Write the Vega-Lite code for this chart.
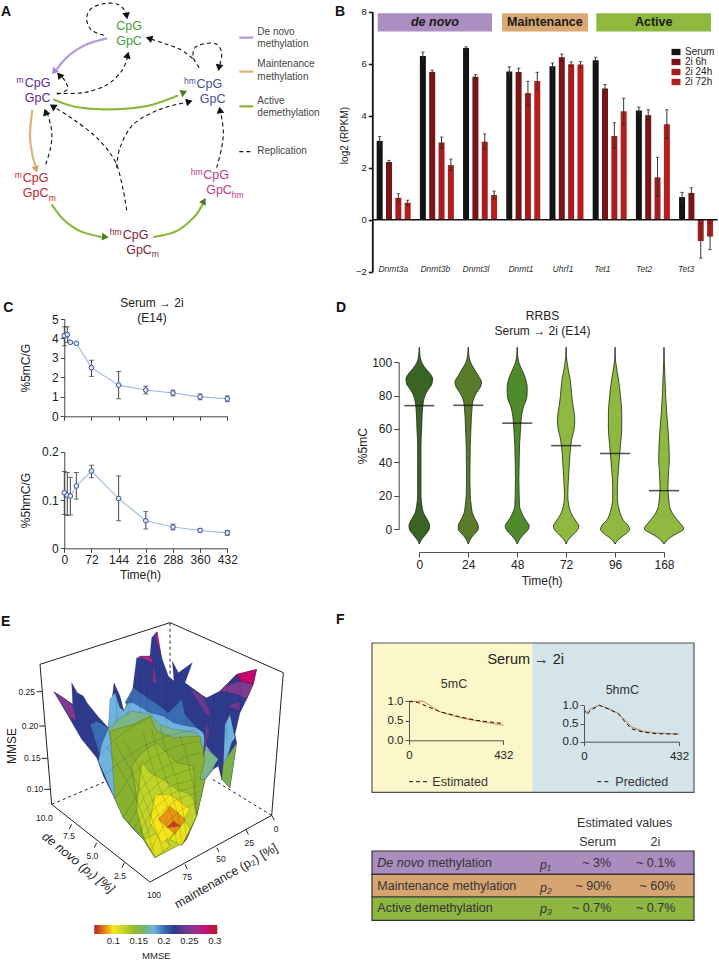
{"$schema":"https://vega.github.io/schema/vega-lite/v6.json","padding":0,"background":"white","spacing":0,"config":{"font":"Liberation Sans","view":{"stroke":null},"axis":{"grid":false,"labelColor":"#222","titleColor":"#222","titleFontWeight":"normal","labelOverlap":false,"labelBound":false,"labelFlush":false},"text":{"color":"#222"},"title":{"color":"#222"}},"hconcat":[{"vconcat":[
{"width":330,"height":317.7,"encoding":{"x":{"field":"x","type":"quantitative","axis":null,"scale":{"domain":[0,990],"nice":false,"zero":false}},"y":{"field":"y","type":"quantitative","axis":null,"scale":{"domain":[953.1,0],"nice":false,"zero":false}}},"resolve":{"scale":{"color":"independent"}},"layer":[
{"data":{"values":[
{"e":"r1","k":"Replication","x":312,"y":103},{"e":"r1","k":"Replication","x":275,"y":88},{"e":"r1","k":"Replication","x":260,"y":55},{"e":"r1","k":"Replication","x":272,"y":24},{"e":"r1","k":"Replication","x":310,"y":8},{"e":"r1","k":"Replication","x":350,"y":9},{"e":"r1","k":"Replication","x":372,"y":25},{"e":"r1","k":"Replication","x":380,"y":42},
{"e":"r2","k":"Replication","x":578,"y":172},{"e":"r2","k":"Replication","x":540,"y":145},{"e":"r2","k":"Replication","x":495,"y":128},{"e":"r2","k":"Replication","x":455,"y":115},
{"e":"r3","k":"Replication","x":598,"y":200},{"e":"r3","k":"Replication","x":580,"y":170},{"e":"r3","k":"Replication","x":585,"y":140},{"e":"r3","k":"Replication","x":620,"y":127},{"e":"r3","k":"Replication","x":650,"y":130},{"e":"r3","k":"Replication","x":665,"y":155},{"e":"r3","k":"Replication","x":660,"y":190},
{"e":"r4","k":"Replication","x":170,"y":277},{"e":"r4","k":"Replication","x":250,"y":275},{"e":"r4","k":"Replication","x":320,"y":252},{"e":"r4","k":"Replication","x":365,"y":210},{"e":"r4","k":"Replication","x":382,"y":170},
{"e":"r5","k":"Replication","x":172,"y":280},{"e":"r5","k":"Replication","x":203,"y":265},{"e":"r5","k":"Replication","x":195,"y":240},{"e":"r5","k":"Replication","x":183,"y":225},
{"e":"r6","k":"Replication","x":137,"y":490},{"e":"r6","k":"Replication","x":152,"y":440},{"e":"r6","k":"Replication","x":155,"y":390},{"e":"r6","k":"Replication","x":143,"y":340},
{"e":"r7","k":"Replication","x":380,"y":628},{"e":"r7","k":"Replication","x":368,"y":560},{"e":"r7","k":"Replication","x":345,"y":480},{"e":"r7","k":"Replication","x":290,"y":410},{"e":"r7","k":"Replication","x":220,"y":355},{"e":"r7","k":"Replication","x":165,"y":320},
{"e":"r8","k":"Replication","x":350,"y":500},{"e":"r8","k":"Replication","x":360,"y":440},{"e":"r8","k":"Replication","x":400,"y":370},{"e":"r8","k":"Replication","x":480,"y":325},{"e":"r8","k":"Replication","x":555,"y":305},
{"e":"r9","k":"Replication","x":650,"y":500},{"e":"r9","k":"Replication","x":665,"y":440},{"e":"r9","k":"Replication","x":670,"y":390},{"e":"r9","k":"Replication","x":663,"y":340},
{"e":"p","k":"De novo","x":322,"y":112},{"e":"p","k":"De novo","x":260,"y":130},{"e":"p","k":"De novo","x":205,"y":165},{"e":"p","k":"De novo","x":170,"y":205},
{"e":"o","k":"Maintenance","x":97,"y":327},{"e":"o","k":"Maintenance","x":90,"y":400},{"e":"o","k":"Maintenance","x":97,"y":460},{"e":"o","k":"Maintenance","x":107,"y":495},
{"e":"g1","k":"Active","x":160,"y":295},{"e":"g1","k":"Active","x":230,"y":318},{"e":"g1","k":"Active","x":330,"y":325},{"e":"g1","k":"Active","x":440,"y":315},{"e":"g1","k":"Active","x":535,"y":283},
{"e":"g2","k":"Active","x":155,"y":610},{"e":"g2","k":"Active","x":190,"y":655},{"e":"g2","k":"Active","x":240,"y":690},{"e":"g2","k":"Active","x":305,"y":708},
{"e":"g3","k":"Active","x":460,"y":708},{"e":"g3","k":"Active","x":530,"y":690},{"e":"g3","k":"Active","x":585,"y":645},{"e":"g3","k":"Active","x":608,"y":608},
{"e":"l1","k":"De novo","x":718,"y":110},{"e":"l1","k":"De novo","x":760,"y":110},
{"e":"l2","k":"Maintenance","x":718,"y":212},{"e":"l2","k":"Maintenance","x":760,"y":212},
{"e":"l3","k":"Active","x":718,"y":316},{"e":"l3","k":"Active","x":760,"y":316},
{"e":"l4","k":"Replication","x":718,"y":452},{"e":"l4","k":"Replication","x":760,"y":452}
]},"mark":{"type":"line","interpolate":"cardinal","order":false},"encoding":{"detail":{"field":"e"},"color":{"field":"k","type":"nominal","legend":null,"scale":{"domain":["De novo","Maintenance","Active","Replication"],"range":["#b39ad0","#e0ae78","#8cb73f","#111111"]}},"strokeDash":{"field":"k","type":"nominal","legend":null,"scale":{"domain":["De novo","Maintenance","Active","Replication"],"range":[[1,0],[1,0],[1,0],[4,3]]}},"strokeWidth":{"field":"k","type":"nominal","legend":null,"scale":{"type":"ordinal","domain":["De novo","Maintenance","Active","Replication"],"range":[2.2,2.2,2.2,1.1]}}}},
{"data":{"values":[
{"k":"Replication","x":380,"y":45,"a":170},{"k":"Replication","x":447,"y":112,"a":288},{"k":"Replication","x":657,"y":200,"a":190},{"k":"Replication","x":383,"y":162,"a":15},{"k":"Replication","x":178,"y":222,"a":321},{"k":"Replication","x":137,"y":333,"a":340},{"k":"Replication","x":158,"y":316,"a":302},{"k":"Replication","x":568,"y":302,"a":75},{"k":"Replication","x":660,"y":327,"a":352},
{"k":"De novo","x":162,"y":212,"a":221},{"k":"Maintenance","x":108,"y":505,"a":164},{"k":"Active","x":552,"y":274,"a":68},{"k":"Active","x":316,"y":708,"a":95},{"k":"Active","x":612,"y":600,"a":30}
]},"mark":{"type":"point","shape":"triangle-up","filled":true,"size":60,"opacity":1},"encoding":{"angle":{"field":"a","type":"quantitative","scale":null},"color":{"field":"k","type":"nominal","legend":null,"scale":{"domain":["De novo","Maintenance","Active","Replication"],"range":["#a98bc9","#d9a06a","#4f7a26","#111111"]}}}},
{"data":{"values":[
{"n":"CpG","t":"CpG","x":387,"y":74},{"n":"CpG","t":"GpC","x":387,"y":120},
{"n":"mCpG","t":"CpG","x":113,"y":245},{"n":"mCpG","t":"GpC","x":113,"y":291},
{"n":"hmCpG","t":"CpG","x":628,"y":248},{"n":"hmCpG","t":"GpC","x":638,"y":294},
{"n":"mCpGm","t":"CpG","x":107,"y":530},{"n":"mCpGm","t":"GpC","x":107,"y":575},
{"n":"hmCpGhm","t":"CpG","x":648,"y":521},{"n":"hmCpGhm","t":"GpC","x":657,"y":568},
{"n":"hmCpGm","t":"CpG","x":407,"y":701},{"n":"hmCpGm","t":"GpC","x":417,"y":747}
]},"mark":{"type":"text","fontSize":12.5,"baseline":"middle"},"encoding":{"text":{"field":"t"},"color":{"field":"n","type":"nominal","legend":null,"scale":{"domain":["CpG","mCpG","hmCpG","mCpGm","hmCpGhm","hmCpGm"],"range":["#3fa037","#5b2a8c","#3f4f96","#c8232c","#c03a8c","#7c2630"]}}}},
{"data":{"values":[
{"n":"mCpG","t":"m","x":60,"y":238},{"n":"hmCpG","t":"hm","x":570,"y":240},{"n":"mCpGm","t":"m","x":55,"y":523},{"n":"mCpGm","t":"m","x":157,"y":590},{"n":"hmCpGhm","t":"hm","x":590,"y":514},{"n":"hmCpGhm","t":"hm","x":713,"y":582},{"n":"hmCpGm","t":"hm","x":347,"y":693},{"n":"hmCpGm","t":"m","x":466,"y":760}
]},"mark":{"type":"text","fontSize":8.5,"baseline":"middle"},"encoding":{"text":{"field":"t"},"color":{"field":"n","type":"nominal","legend":null,"scale":{"domain":["mCpG","hmCpG","mCpGm","hmCpGhm","hmCpGm"],"range":["#5b2a8c","#3f4f96","#c8232c","#c03a8c","#7c2630"]}}}},
{"data":{"values":[
{"t":"De novo","x":772,"y":92},{"t":"methylation","x":772,"y":129},{"t":"Maintenance","x":772,"y":190},{"t":"methylation","x":772,"y":227},{"t":"Active","x":772,"y":300},{"t":"demethylation","x":772,"y":337},{"t":"Replication","x":772,"y":450}
]},"mark":{"type":"text","fontSize":10,"align":"left","baseline":"middle","color":"#444"},"encoding":{"text":{"field":"t"}}},
{"data":{"values":[{"t":"A","x":3,"y":33}]},"mark":{"type":"text","fontSize":14,"fontWeight":"bold","align":"left","baseline":"middle","color":"#111"},"encoding":{"text":{"field":"t"}}}
]},
{"width":330,"height":97.3,"title":{"text":["Serum → 2i","(E14)"],"fontSize":12,"fontWeight":"normal","anchor":"middle","dx":-13,"offset":-24,"lineHeight":15},"data":{"values":[
{"t":0,"v":4.15,"lo":3.63,"hi":4.6},{"t":8,"v":4.2,"lo":3.8,"hi":4.6},{"t":16,"v":3.8},{"t":32,"v":3.75},{"t":72,"v":2.5,"lo":2.05,"hi":2.88},{"t":144,"v":1.6,"lo":0.9,"hi":2.3},{"t":216,"v":1.35,"lo":1.15,"hi":1.55},{"t":288,"v":1.2,"lo":1.05,"hi":1.35},{"t":360,"v":1.0,"lo":0.85,"hi":1.15},{"t":432,"v":0.9,"lo":0.75,"hi":1.05}
]},"encoding":{"x":{"field":"t","type":"quantitative","title":null,"scale":{"domain":[0,432],"range":[64.3,227.3],"nice":false},"axis":{"values":[0,72,144,216,288,360,432],"labels":false,"tickSize":4,"domainColor":"#444","tickColor":"#444"}}},"layer":[
{"transform":[{"filter":"isValid(datum.lo)"}],"mark":{"type":"rule","color":"#444","strokeWidth":1},"encoding":{"y":{"field":"lo","type":"quantitative","title":"%5mC/G","axis":{"values":[0,1,2,3,4,5]}},"y2":{"field":"hi"}}},
{"transform":[{"filter":"isValid(datum.lo)"}],"mark":{"type":"tick","orient":"horizontal","size":5,"thickness":1,"color":"#333"},"encoding":{"y":{"field":"lo","type":"quantitative","title":"%5mC/G","axis":{"values":[0,1,2,3,4,5]}}}},
{"transform":[{"filter":"isValid(datum.lo)"}],"mark":{"type":"tick","orient":"horizontal","size":5,"thickness":1,"color":"#333"},"encoding":{"y":{"field":"hi","type":"quantitative","title":"%5mC/G","axis":{"values":[0,1,2,3,4,5]}}}},
{"mark":{"type":"line","color":"#9db7e3","strokeWidth":1.1},"encoding":{"y":{"field":"v","type":"quantitative","scale":{"domain":[0,5],"nice":false},"title":"%5mC/G","axis":{"values":[0,1,2,3,4,5],"offset":-64.3,"labelFontSize":12,"titleFontSize":12,"tickSize":4,"titleX":-32.3,"domainColor":"#444","tickColor":"#444"}}}},
{"mark":{"type":"point","filled":true,"fill":"#dfe7f4","stroke":"#3b4f9a","strokeWidth":1,"size":22,"opacity":1},"encoding":{"y":{"field":"v","type":"quantitative","title":"%5mC/G","axis":{"values":[0,1,2,3,4,5]}}}},
{"data":{"values":[{"t":-162,"v":5.55,"l":"C"}]},"mark":{"type":"text","fontSize":14,"fontWeight":"bold","align":"left","baseline":"middle","color":"#111"},"encoding":{"y":{"field":"v","type":"quantitative","title":"%5mC/G","axis":{"values":[0,1,2,3,4,5]}},"text":{"field":"l"}}}
]},
{"width":330,"height":131.3,"data":{"values":[
{"t":0,"v":0.115,"lo":0.07,"hi":0.159},{"t":8,"v":0.11,"lo":0.068,"hi":0.157},{"t":16,"v":0.108,"lo":0.069,"hi":0.147},{"t":32,"v":0.129,"lo":0.102,"hi":0.157},{"t":72,"v":0.16,"lo":0.146,"hi":0.172},{"t":144,"v":0.103,"lo":0.057,"hi":0.15},{"t":216,"v":0.057,"lo":0.04,"hi":0.076},{"t":288,"v":0.044,"lo":0.038,"hi":0.05},{"t":360,"v":0.037,"lo":0.034,"hi":0.04},{"t":432,"v":0.032,"lo":0.027,"hi":0.037}
]},"encoding":{"x":{"field":"t","type":"quantitative","title":"Time(h)","scale":{"domain":[0,432],"range":[64.3,227.3],"nice":false},"axis":{"values":[0,72,144,216,288,360,432],"labelFontSize":12,"titleFontSize":12,"tickSize":4,"titlePadding":4,"domainColor":"#444","tickColor":"#444","titleX":140}}},"layer":[
{"mark":{"type":"rule","color":"#444","strokeWidth":1},"encoding":{"y":{"field":"lo","type":"quantitative","title":"%5hmC/G","axis":{"values":[0,0.1,0.2]}},"y2":{"field":"hi"}}},
{"mark":{"type":"tick","orient":"horizontal","size":5,"thickness":1,"color":"#333"},"encoding":{"y":{"field":"lo","type":"quantitative","title":"%5hmC/G","axis":{"values":[0,0.1,0.2]}}}},
{"mark":{"type":"tick","orient":"horizontal","size":5,"thickness":1,"color":"#333"},"encoding":{"y":{"field":"hi","type":"quantitative","title":"%5hmC/G","axis":{"values":[0,0.1,0.2]}}}},
{"mark":{"type":"line","color":"#9db7e3","strokeWidth":1.1},"encoding":{"y":{"field":"v","type":"quantitative","scale":{"domain":[0,0.2],"range":[131.3,34.7],"nice":false},"title":"%5hmC/G","axis":{"values":[0,0.1,0.2],"labelExpr":"datum.value === 0 ? '0' : format(datum.value, '.1f')","offset":-64.3,"labelFontSize":12,"titleFontSize":12,"tickSize":4,"titleX":-32.3,"domainColor":"#444","tickColor":"#444"}}}},
{"mark":{"type":"point","filled":true,"fill":"#dfe7f4","stroke":"#3b4f9a","strokeWidth":1,"size":22,"opacity":1},"encoding":{"y":{"field":"v","type":"quantitative","title":"%5hmC/G","axis":{"values":[0,0.1,0.2]}}}}
]},
{"width":330,"height":413.7,"resolve":{"scale":{"color":"independent"}},"layer":[
{"data":{"values":[
{"type":"Feature","properties":{"v":0.22},"geometry":{"type":"Polygon","coordinates":[[[162,237],[190,255],[218,275],[215,210],[232,240],[250,250],[262,272],[295,312],[325,345],[335,270],[342,210],[360,250],[372,295],[385,265],[398,230],[410,135],[450,130],[455,75],[470,57],[485,135],[505,190],[522,205],[517,145],[535,180],[577,150],[555,210],[610,250],[620,255],[660,235],[710,185],[770,170],[760,215],[740,260],[720,300],[705,365],[710,390],[690,525],[665,500],[655,460],[640,470],[615,500],[590,610],[560,680],[545,698],[525,690],[510,700],[465,735],[430,680],[400,650],[370,615],[345,560],[310,490],[290,435],[245,380],[200,300]]]}},
{"type":"Feature","properties":{"v":0.2},"geometry":{"type":"Polygon","coordinates":[[[270,335],[290,325],[325,345],[335,405],[335,440],[300,430],[290,400]]]}},
{"type":"Feature","properties":{"v":0.2},"geometry":{"type":"Polygon","coordinates":[[[375,270],[400,225],[450,260],[480,280],[505,300],[545,260],[555,305],[590,345],[610,375],[520,365],[450,315]]]}},
{"type":"Feature","properties":{"v":0.18},"geometry":{"type":"Polygon","coordinates":[[[295,445],[305,395],[325,345],[330,260],[345,240],[360,285],[372,295],[385,270],[400,270],[450,300],[490,310],[520,330],[560,340],[590,345],[610,360],[620,400],[650,440],[640,470],[615,500],[590,610],[345,560],[310,490]]]}},
{"type":"Feature","properties":{"v":0.18},"geometry":{"type":"Polygon","coordinates":[[[675,335],[690,305],[705,375],[695,390],[680,440],[670,450],[655,440]]]}},
{"type":"Feature","properties":{"v":0.155},"geometry":{"type":"Polygon","coordinates":[[[670,450],[710,390],[690,525],[665,500],[655,460]]]}},
{"type":"Feature","properties":{"v":0.168},"geometry":{"type":"Polygon","coordinates":[[[325,350],[360,315],[395,295],[450,305],[480,335],[520,350],[560,355],[590,360],[605,400],[640,425],[655,440],[615,500],[590,610],[400,640],[325,500]]]}},
{"type":"Feature","properties":{"v":0.148},"geometry":{"type":"Polygon","coordinates":[[[330,355],[400,335],[450,310],[470,355],[520,375],[600,370],[615,440],[600,500],[615,500],[590,610],[560,680],[465,735],[430,680],[370,615],[345,560],[330,480]]]}},
{"type":"Feature","properties":{"v":0.138},"geometry":{"type":"Polygon","coordinates":[[[395,460],[425,420],[470,390],[530,450],[580,460],[590,610],[550,690],[465,735],[430,680],[400,600]]]}},
{"type":"Feature","properties":{"v":0.122},"geometry":{"type":"Polygon","coordinates":[[[425,445],[450,480],[480,495],[530,530],[570,545],[580,560],[590,610],[550,690],[465,735],[430,670],[410,590],[395,460]]]}},
{"type":"Feature","properties":{"v":0.11},"geometry":{"type":"Polygon","coordinates":[[[435,680],[465,735],[510,700],[475,660],[440,640]]]}},
{"type":"Feature","properties":{"v":0.1},"geometry":{"type":"Polygon","coordinates":[[[465,545],[510,545],[570,590],[550,620],[520,660],[510,675],[485,690],[450,630],[445,570]]]}},
{"type":"Feature","properties":{"v":0.105},"geometry":{"type":"Polygon","coordinates":[[[510,680],[555,625],[570,650],[545,698],[525,690]]]}},
{"type":"Feature","properties":{"v":0.085},"geometry":{"type":"Polygon","coordinates":[[[475,620],[510,580],[555,620],[525,665],[495,650]]]}},
{"type":"Feature","properties":{"v":0.07},"geometry":{"type":"Polygon","coordinates":[[[500,645],[520,625],[540,640],[525,663]]]}},
{"type":"Feature","properties":{"v":0.25},"geometry":{"type":"Polygon","coordinates":[[[162,237],[190,255],[220,280],[230,325],[210,315],[180,275]]]}},
{"type":"Feature","properties":{"v":0.27},"geometry":{"type":"Polygon","coordinates":[[[415,130],[450,130],[465,155],[440,140]]]}},
{"type":"Feature","properties":{"v":0.25},"geometry":{"type":"Polygon","coordinates":[[[460,145],[470,210],[458,210],[450,150]]]}},
{"type":"Feature","properties":{"v":0.27},"geometry":{"type":"Polygon","coordinates":[[[465,70],[472,57],[485,135],[472,135]]]}},
{"type":"Feature","properties":{"v":0.25},"geometry":{"type":"Polygon","coordinates":[[[660,235],[710,185],[680,220],[720,205],[760,215],[740,260],[710,245],[665,260]]]}},
{"type":"Feature","properties":{"v":0.285},"geometry":{"type":"Polygon","coordinates":[[[710,185],[770,170],[760,215],[720,205],[680,220]]]}},
{"type":"Feature","properties":{"v":0.24},"geometry":{"type":"Polygon","coordinates":[[[680,280],[720,265],[720,295],[690,315]]]}},
{"type":"Feature","properties":{"v":0.24},"geometry":{"type":"Polygon","coordinates":[[[567,225],[610,250],[635,310],[617,305],[585,245]]]}},
{"type":"Feature","properties":{"v":0.235},"geometry":{"type":"Polygon","coordinates":[[[617,325],[630,355],[610,430],[600,430]]]}}
]},"projection":{"type":"identity","scale":0.33333,"translate":[0,63.7]},"mark":{"type":"geoshape","stroke":"#222","strokeWidth":0.35,"strokeOpacity":0.6},"encoding":{"color":{"field":"properties.v","type":"quantitative","title":"MMSE","scale":{"domain":[0.0625,0.075,0.09,0.1,0.115,0.13,0.15,0.17,0.18,0.2,0.22,0.25,0.28,0.305],"range":["#b5202a","#d9541e","#eeb31c","#f5e61a","#d4dc26","#a8c82b","#84ae2e","#7fb58f","#6fb3e0","#3a6cb4","#2e3a8c","#7c3a90","#c4127c","#b5202a"]},"legend":{"orient":"none","legendX":94.3,"legendY":376,"direction":"horizontal","gradientLength":123,"gradientThickness":9,"titleOrient":"bottom","titleAnchor":"middle","titleFontSize":9.5,"titleFontWeight":"normal","titleColor":"#222","labelFontSize":9.5,"labelColor":"#222","values":[0.1,0.15,0.2,0.25,0.3],"labelExpr":"''+datum.value"}}}},
{"encoding":{"x":{"field":"x","type":"quantitative","axis":null,"scale":{"domain":[0,990],"nice":false,"zero":false}},"y":{"field":"y","type":"quantitative","axis":null,"scale":{"domain":[1050,-191],"nice":false,"zero":false}}},"layer":[
{"data":{"values":[
{"e":"a1","x":370,"y":615},{"e":"a1","x":420,"y":530},{"e":"a1","x":480,"y":470},{"e":"a1","x":560,"y":430},{"e":"a1","x":600,"y":420},
{"e":"a2","x":400,"y":650},{"e":"a2","x":450,"y":570},{"e":"a2","x":510,"y":520},{"e":"a2","x":580,"y":500},
{"e":"a3","x":430,"y":680},{"e":"a3","x":470,"y":610},{"e":"a3","x":530,"y":560},{"e":"a3","x":590,"y":540},
{"e":"a4","x":310,"y":490},{"e":"a4","x":370,"y":440},{"e":"a4","x":430,"y":400},{"e":"a4","x":500,"y":370},{"e":"a4","x":590,"y":350},
{"e":"a5","x":290,"y":435},{"e":"a5","x":345,"y":380},{"e":"a5","x":400,"y":340},{"e":"a5","x":460,"y":310},
{"e":"a6","x":345,"y":560},{"e":"a6","x":395,"y":485},{"e":"a6","x":455,"y":435},{"e":"a6","x":530,"y":400},{"e":"a6","x":598,"y":385},
{"e":"a7","x":385,"y":635},{"e":"a7","x":435,"y":550},{"e":"a7","x":495,"y":495},{"e":"a7","x":585,"y":465},
{"e":"a8","x":415,"y":665},{"e":"a8","x":460,"y":590},{"e":"a8","x":520,"y":540},{"e":"a8","x":590,"y":520},
{"e":"a9","x":450,"y":715},{"e":"a9","x":490,"y":640},{"e":"a9","x":545,"y":590},{"e":"a9","x":590,"y":570},
{"e":"b1","x":465,"y":735},{"e":"b1","x":440,"y":640},{"e":"b1","x":400,"y":540},{"e":"b1","x":360,"y":470},{"e":"b1","x":320,"y":400},
{"e":"b2","x":510,"y":700},{"e":"b2","x":480,"y":620},{"e":"b2","x":440,"y":520},{"e":"b2","x":410,"y":450},{"e":"b2","x":370,"y":380},
{"e":"b3","x":530,"y":690},{"e":"b3","x":520,"y":620},{"e":"b3","x":480,"y":530},{"e":"b3","x":450,"y":440},{"e":"b3","x":430,"y":360},
{"e":"b4","x":560,"y":680},{"e":"b4","x":550,"y":600},{"e":"b4","x":530,"y":500},{"e":"b4","x":500,"y":420},{"e":"b4","x":480,"y":340},
{"e":"b5","x":590,"y":610},{"e":"b5","x":580,"y":520},{"e":"b5","x":560,"y":430},{"e":"b5","x":540,"y":370},
{"e":"b6","x":490,"y":718},{"e":"b6","x":460,"y":630},{"e":"b6","x":420,"y":530},{"e":"b6","x":385,"y":460},{"e":"b6","x":345,"y":390},
{"e":"b7","x":545,"y":690},{"e":"b7","x":535,"y":610},{"e":"b7","x":505,"y":515},{"e":"b7","x":475,"y":430},{"e":"b7","x":455,"y":350},
{"e":"c1","x":420,"y":300},{"e":"c1","x":420,"y":160},{"e":"c2","x":440,"y":300},{"e":"c2","x":440,"y":150},{"e":"c3","x":500,"y":330},{"e":"c3","x":500,"y":200},{"e":"c4","x":560,"y":340},{"e":"c4","x":560,"y":230},{"e":"c5","x":640,"y":350},{"e":"c5","x":640,"y":250},{"e":"c6","x":680,"y":380},{"e":"c6","x":680,"y":225},{"e":"c7","x":720,"y":300},{"e":"c7","x":720,"y":190},{"e":"c8","x":380,"y":310},{"e":"c8","x":400,"y":240},{"e":"c9","x":350,"y":330},{"e":"c9","x":350,"y":250}
]},"mark":{"type":"line","order":false,"color":"#222","strokeWidth":0.4,"opacity":0.45},"encoding":{"detail":{"field":"e"}}},
{"data":{"values":[
{"e":"top","x":155,"y":575},{"e":"top","x":120,"y":155},{"e":"top","x":510,"y":30},{"e":"top","x":850,"y":180},{"e":"top","x":815,"y":608},{"e":"top","x":450,"y":808},{"e":"top","x":155,"y":575},
{"e":"t1","x":110,"y":237},{"e":"t1","x":128,"y":237},{"e":"t2","x":118,"y":340},{"e":"t2","x":135,"y":340},{"e":"t3","x":125,"y":437},{"e":"t3","x":143,"y":437},{"e":"t4","x":133,"y":530},{"e":"t4","x":150,"y":530},
{"e":"t5","x":215,"y":635},{"e":"t5","x":207,"y":650},{"e":"t6","x":290,"y":690},{"e":"t6","x":283,"y":705},{"e":"t7","x":373,"y":750},{"e":"t7","x":366,"y":765},
{"e":"t8","x":815,"y":608},{"e":"t8","x":823,"y":622},{"e":"t9","x":738,"y":650},{"e":"t9","x":745,"y":665},{"e":"t10","x":650,"y":705},{"e":"t10","x":657,"y":718},{"e":"t11","x":555,"y":755},{"e":"t11","x":562,"y":770}
]},"mark":{"type":"line","order":false,"color":"#222","strokeWidth":1},"encoding":{"detail":{"field":"e"}}},
{"data":{"values":[
{"e":"d1","x":510,"y":30},{"e":"d1","x":510,"y":190},{"e":"d2","x":155,"y":575},{"e":"d2","x":320,"y":505},{"e":"d3","x":815,"y":608},{"e":"d3","x":630,"y":495}
]},"mark":{"type":"line","order":false,"color":"#222","strokeWidth":1,"strokeDash":[3,3]},"encoding":{"detail":{"field":"e"}}},
{"data":{"values":[
{"t":"0.25","x":105,"y":237},{"t":"0.20","x":115,"y":340},{"t":"0.15","x":122,"y":437},{"t":"0.10","x":130,"y":530}
]},"mark":{"type":"text","fontSize":8.5,"align":"right","baseline":"middle"},"encoding":{"text":{"field":"t"}}},
{"data":{"values":[
{"t":"10.0","x":133,"y":615},{"t":"7.5","x":207,"y":670},{"t":"5.0","x":277,"y":729},{"t":"2.5","x":360,"y":790},{"t":"0","x":828,"y":648},{"t":"25","x":748,"y":690},{"t":"50","x":663,"y":740},{"t":"75","x":562,"y":792},{"t":"100","x":462,"y":846}
]},"mark":{"type":"text","fontSize":8.5,"baseline":"middle"},"encoding":{"text":{"field":"t"}}},
{"data":{"values":[{"t":"MMSE","x":37,"y":400}]},"mark":{"type":"text","fontSize":12,"angle":270,"baseline":"middle"},"encoding":{"text":{"field":"t"}}},
{"data":{"values":[{"t":"de novo (p₁) [%]","x":235,"y":750}]},"mark":{"type":"text","fontSize":12.5,"angle":39,"baseline":"middle","fontStyle":"italic"},"encoding":{"text":{"field":"t"}}},
{"data":{"values":[{"t":"maintenance (p₂) [%]","x":678,"y":790}]},"mark":{"type":"text","fontSize":12.5,"angle":330,"baseline":"middle"},"encoding":{"text":{"field":"t"}}},
{"data":{"values":[{"t":"E","x":3,"y":27}]},"mark":{"type":"text","fontSize":14,"fontWeight":"bold","align":"left","baseline":"middle","color":"#111"},"encoding":{"text":{"field":"t"}}}
]}
]}
],"spacing":0,"bounds":"flush"},
{"vconcat":[
{"width":389,"height":300,"resolve":{"scale":{"x":"independent","color":"independent"},"axis":{"x":"independent"}},"layer":[
{"encoding":{"x":{"field":"a","type":"quantitative","axis":null,"scale":{"domain":[0,8],"range":[42.07,387.67],"nice":false,"zero":false}},"y":{"field":"y0","type":"quantitative","title":"log2 (RPKM)","scale":{"domain":[-2,8],"range":[270.7,10.7],"nice":false}}},"layer":[
{"data":{"values":[{"g":"de novo","a":0.13,"b":2.776,"y0":7.94,"y1":7.24},{"g":"Maintenance","a":3.008,"b":4.998,"y0":7.94,"y1":7.24},{"g":"Active","a":5.19,"b":7.845,"y0":7.94,"y1":7.24}]},"mark":{"type":"rect"},"encoding":{"x2":{"field":"b"},"y2":{"field":"y1"},"color":{"field":"g","type":"nominal","legend":null,"scale":{"domain":["de novo","Maintenance","Active"],"range":["#ab8fc1","#d9a873","#8fb83f"]}}}},
{"data":{"values":[{"t":"de novo","a":1.455,"y0":7.6}]},"mark":{"type":"text","fontSize":12.5,"fontWeight":"bold","fontStyle":"italic","baseline":"middle","color":"#1a1a1a"},"encoding":{"text":{"field":"t"}}},
{"data":{"values":[{"t":"Maintenance","a":4.0,"y0":7.62},{"t":"Active","a":6.52,"y0":7.62}]},"mark":{"type":"text","fontSize":12.5,"fontWeight":"bold","baseline":"middle","color":"#1a1a1a"},"encoding":{"text":{"field":"t"}}},
{"data":{"values":[{"t":"Dnmt3a","a":0.492,"y0":-1.885},{"t":"Dnmt3b","a":1.464,"y0":-1.885},{"t":"Dnmt3l","a":2.406,"y0":-1.885},{"t":"Dnmt1","a":3.447,"y0":-1.885},{"t":"Uhrf1","a":4.42,"y0":-1.885},{"t":"Tet1","a":5.33,"y0":-1.885},{"t":"Tet2","a":6.30,"y0":-1.885},{"t":"Tet3","a":7.27,"y0":-1.885}]},"mark":{"type":"text","fontSize":8.5,"fontStyle":"italic","baseline":"middle","color":"#333"},"encoding":{"text":{"field":"t"}}},
{"data":{"values":[{"t":"B","a":-0.86,"y0":7.99}]},"mark":{"type":"text","fontSize":14,"fontWeight":"bold","align":"left","baseline":"middle","color":"#111"},"encoding":{"text":{"field":"t"}}}
]},
{"data":{"values":[
{"gene":"Dnmt3a","series":"Serum","v":3.03,"lo":2.85,"hi":3.2},{"gene":"Dnmt3a","series":"2i 6h","v":2.22,"lo":2.15,"hi":2.28},{"gene":"Dnmt3a","series":"2i 24h","v":0.84,"lo":0.68,"hi":1.0},{"gene":"Dnmt3a","series":"2i 72h","v":0.65,"lo":0.55,"hi":0.75},
{"gene":"Dnmt3b","series":"Serum","v":6.3,"lo":6.15,"hi":6.45},{"gene":"Dnmt3b","series":"2i 6h","v":5.68,"lo":5.62,"hi":5.75},{"gene":"Dnmt3b","series":"2i 24h","v":2.97,"lo":2.75,"hi":3.18},{"gene":"Dnmt3b","series":"2i 72h","v":2.1,"lo":1.9,"hi":2.33},
{"gene":"Dnmt3l","series":"Serum","v":6.6,"lo":6.55,"hi":6.65},{"gene":"Dnmt3l","series":"2i 6h","v":5.5,"lo":5.42,"hi":5.58},{"gene":"Dnmt3l","series":"2i 24h","v":3.0,"lo":2.72,"hi":3.3},{"gene":"Dnmt3l","series":"2i 72h","v":0.95,"lo":0.8,"hi":1.1},
{"gene":"Dnmt1","series":"Serum","v":5.7,"lo":5.5,"hi":5.88},{"gene":"Dnmt1","series":"2i 6h","v":5.68,"lo":5.5,"hi":5.83},{"gene":"Dnmt1","series":"2i 24h","v":4.87,"lo":4.42,"hi":5.32},{"gene":"Dnmt1","series":"2i 72h","v":5.33,"lo":5.0,"hi":5.67},
{"gene":"Uhrf1","series":"Serum","v":5.9,"lo":5.75,"hi":6.03},{"gene":"Uhrf1","series":"2i 6h","v":6.25,"lo":6.12,"hi":6.37},{"gene":"Uhrf1","series":"2i 24h","v":5.98,"lo":5.9,"hi":6.07},{"gene":"Uhrf1","series":"2i 72h","v":5.97,"lo":5.85,"hi":6.08},
{"gene":"Tet1","series":"Serum","v":6.13,"lo":6.0,"hi":6.25},{"gene":"Tet1","series":"2i 6h","v":5.05,"lo":4.9,"hi":5.2},{"gene":"Tet1","series":"2i 24h","v":3.22,"lo":2.75,"hi":3.73},{"gene":"Tet1","series":"2i 72h","v":4.17,"lo":3.65,"hi":4.67},
{"gene":"Tet2","series":"Serum","v":4.2,"lo":4.1,"hi":4.33},{"gene":"Tet2","series":"2i 6h","v":4.02,"lo":3.85,"hi":4.23},{"gene":"Tet2","series":"2i 24h","v":1.63,"lo":0.9,"hi":2.4},{"gene":"Tet2","series":"2i 72h","v":3.67,"lo":3.13,"hi":4.23},
{"gene":"Tet3","series":"Serum","v":0.87,"lo":0.7,"hi":1.05},{"gene":"Tet3","series":"2i 6h","v":1.03,"lo":0.82,"hi":1.23},{"gene":"Tet3","series":"2i 24h","v":-0.82,"lo":-1.48,"hi":-0.15},{"gene":"Tet3","series":"2i 72h","v":-0.65,"lo":-1.15,"hi":-0.12}
]},"encoding":{"x":{"field":"gene","type":"nominal","axis":null,"sort":["Dnmt3a","Dnmt3b","Dnmt3l","Dnmt1","Uhrf1","Tet1","Tet2","Tet3"],"scale":{"domain":["Dnmt3a","Dnmt3b","Dnmt3l","Dnmt1","Uhrf1","Tet1","Tet2","Tet3"],"range":[42.07,387.67],"paddingInner":0,"paddingOuter":0}},"xOffset":{"field":"series","type":"nominal","sort":["Serum","2i 6h","2i 24h","2i 72h"],"scale":{"domain":["Serum","2i 6h","2i 24h","2i 72h"],"paddingInner":0.357,"paddingOuter":0.493}}},"layer":[
{"mark":{"type":"bar"},"encoding":{"y":{"field":"v","type":"quantitative","title":"log2 (RPKM)","scale":{"domain":[-2,8],"range":[270.7,10.7],"nice":false},"axis":{"values":[-2,0,2,4,6,8],"offset":-42.3,"labelFontSize":9.5,"titleFontSize":10,"tickSize":4,"tickWidth":1.5,"domainWidth":1.8,"domainColor":"#111","tickColor":"#111","titleX":-23.3,"titleY":134}},"color":{"field":"series","type":"nominal","sort":["Serum","2i 6h","2i 24h","2i 72h"],"scale":{"domain":["Serum","2i 6h","2i 24h","2i 72h"],"range":["#141414","#7b1416","#a51d1f","#b5201f"]},"legend":{"title":null,"orient":"none","legendX":341,"legendY":46,"symbolType":"M-1,-0.7H1V0.7H-1Z","symbolSize":80,"symbolStrokeWidth":0,"labelFontSize":10,"labelColor":"#222","rowPadding":0,"labelOffset":4}}}},
{"mark":{"type":"rule","color":"#333","strokeWidth":1},"encoding":{"y":{"field":"lo","type":"quantitative","title":"log2 (RPKM)"},"y2":{"field":"hi"}}},
{"mark":{"type":"tick","orient":"horizontal","size":3.5,"thickness":1,"color":"#222"},"encoding":{"y":{"field":"lo","type":"quantitative","title":"log2 (RPKM)"}}},
{"mark":{"type":"tick","orient":"horizontal","size":3.5,"thickness":1,"color":"#222"},"encoding":{"y":{"field":"hi","type":"quantitative","title":"log2 (RPKM)"}}}
]},
{"data":{"values":[{"a":0,"b":8,"y0":0}]},"mark":{"type":"rule","color":"#111","strokeWidth":1.5},"encoding":{"x":{"field":"a","type":"quantitative","axis":null,"scale":{"domain":[0,8],"range":[42.07,387.67],"nice":false,"zero":false}},"x2":{"field":"b"},"y":{"field":"y0","type":"quantitative","title":"log2 (RPKM)"}}}
]},
{"width":389,"height":251,"title":{"text":["RRBS","Serum → 2i (E14)"],"fontSize":12,"fontWeight":"normal","anchor":"middle","dx":18,"offset":-37,"lineHeight":15},"resolve":{"scale":{"color":"independent"}},"encoding":{"x":{"field":"slot","type":"quantitative","title":"Time(h)","scale":{"domain":[0,5],"range":[89.3,334],"nice":false,"zero":false},"axis":{"values":[0,1,2,3,4,5],"labelExpr":"[0,24,48,72,96,168][datum.value]","labelFontSize":12,"titleFontSize":12,"tickSize":5,"titlePadding":5,"domainColor":"#555","tickColor":"#444","domainWidth":1.2}}},"layer":[
{"data":{"values":[
{"t":0,"p":109,"w":0.5},{"t":0,"p":104,"w":2},{"t":0,"p":100,"w":7},{"t":0,"p":96,"w":20},{"t":0,"p":93,"w":33},{"t":0,"p":90,"w":40},{"t":0,"p":87,"w":38},{"t":0,"p":84,"w":28},{"t":0,"p":80,"w":17},{"t":0,"p":76,"w":12},{"t":0,"p":70,"w":9},{"t":0,"p":60,"w":7},{"t":0,"p":50,"w":5},{"t":0,"p":40,"w":5},{"t":0,"p":30,"w":5},{"t":0,"p":20,"w":5},{"t":0,"p":14,"w":8},{"t":0,"p":10,"w":12},{"t":0,"p":7,"w":20},{"t":0,"p":4,"w":28},{"t":0,"p":2,"w":31},{"t":0,"p":0,"w":30},{"t":0,"p":-2,"w":24},{"t":0,"p":-4,"w":16},{"t":0,"p":-6,"w":8},{"t":0,"p":-8,"w":2},{"t":0,"p":-9,"w":0.5},
{"t":24,"p":109,"w":0.5},{"t":24,"p":104,"w":2},{"t":24,"p":100,"w":7},{"t":24,"p":96,"w":18},{"t":24,"p":92,"w":30},{"t":24,"p":88,"w":40},{"t":24,"p":85,"w":36},{"t":24,"p":82,"w":26},{"t":24,"p":78,"w":16},{"t":24,"p":74,"w":12},{"t":24,"p":60,"w":8},{"t":24,"p":50,"w":6},{"t":24,"p":30,"w":5},{"t":24,"p":20,"w":6},{"t":24,"p":14,"w":9},{"t":24,"p":10,"w":12},{"t":24,"p":7,"w":18},{"t":24,"p":4,"w":26},{"t":24,"p":2,"w":30},{"t":24,"p":0,"w":30},{"t":24,"p":-2,"w":24},{"t":24,"p":-4,"w":14},{"t":24,"p":-6,"w":7},{"t":24,"p":-8,"w":2},{"t":24,"p":-9,"w":0.5},
{"t":48,"p":109,"w":0.3},{"t":48,"p":104,"w":1.5},{"t":48,"p":100,"w":5},{"t":48,"p":96,"w":13},{"t":48,"p":92,"w":22},{"t":48,"p":88,"w":28},{"t":48,"p":85,"w":30},{"t":48,"p":82,"w":30},{"t":48,"p":78,"w":28},{"t":48,"p":74,"w":20},{"t":48,"p":70,"w":15},{"t":48,"p":60,"w":10},{"t":48,"p":50,"w":7},{"t":48,"p":40,"w":6},{"t":48,"p":30,"w":5},{"t":48,"p":20,"w":6},{"t":48,"p":14,"w":7},{"t":48,"p":10,"w":13},{"t":48,"p":7,"w":20},{"t":48,"p":4,"w":30},{"t":48,"p":2,"w":36},{"t":48,"p":0,"w":34},{"t":48,"p":-2,"w":26},{"t":48,"p":-4,"w":16},{"t":48,"p":-6,"w":8},{"t":48,"p":-8,"w":2},{"t":48,"p":-9,"w":0.5},
{"t":72,"p":109,"w":0.5},{"t":72,"p":104,"w":1},{"t":72,"p":100,"w":3},{"t":72,"p":96,"w":6},{"t":72,"p":90,"w":12},{"t":72,"p":80,"w":17},{"t":72,"p":75,"w":20},{"t":72,"p":70,"w":24},{"t":72,"p":65,"w":26},{"t":72,"p":60,"w":24},{"t":72,"p":55,"w":18},{"t":72,"p":50,"w":14},{"t":72,"p":40,"w":10},{"t":72,"p":30,"w":7},{"t":72,"p":20,"w":5},{"t":72,"p":14,"w":8},{"t":72,"p":10,"w":14},{"t":72,"p":7,"w":22},{"t":72,"p":4,"w":32},{"t":72,"p":2,"w":38},{"t":72,"p":0,"w":36},{"t":72,"p":-2,"w":28},{"t":72,"p":-4,"w":18},{"t":72,"p":-6,"w":8},{"t":72,"p":-8,"w":2},{"t":72,"p":-9,"w":0.5},
{"t":96,"p":109,"w":0.3},{"t":96,"p":105,"w":0.5},{"t":96,"p":100,"w":2},{"t":96,"p":96,"w":5},{"t":96,"p":90,"w":10},{"t":96,"p":84,"w":14},{"t":96,"p":76,"w":18},{"t":96,"p":70,"w":20},{"t":96,"p":60,"w":20},{"t":96,"p":50,"w":16},{"t":96,"p":45,"w":14},{"t":96,"p":35,"w":10},{"t":96,"p":25,"w":7},{"t":96,"p":18,"w":7},{"t":96,"p":12,"w":12},{"t":96,"p":8,"w":18},{"t":96,"p":5,"w":26},{"t":96,"p":3,"w":36},{"t":96,"p":1,"w":42},{"t":96,"p":0,"w":44},{"t":96,"p":-1,"w":42},{"t":96,"p":-3,"w":32},{"t":96,"p":-5,"w":18},{"t":96,"p":-7,"w":7},{"t":96,"p":-9,"w":0.5},
{"t":168,"p":109,"w":0.3},{"t":168,"p":100,"w":1},{"t":168,"p":90,"w":3},{"t":168,"p":80,"w":5},{"t":168,"p":70,"w":8},{"t":168,"p":60,"w":12},{"t":168,"p":50,"w":15},{"t":168,"p":42,"w":16},{"t":168,"p":35,"w":14},{"t":168,"p":25,"w":12},{"t":168,"p":18,"w":14},{"t":168,"p":12,"w":19},{"t":168,"p":8,"w":30},{"t":168,"p":5,"w":42},{"t":168,"p":3,"w":50},{"t":168,"p":1,"w":58},{"t":168,"p":0,"w":59},{"t":168,"p":-1,"w":54},{"t":168,"p":-3,"w":36},{"t":168,"p":-5,"w":20},{"t":168,"p":-7,"w":8},{"t":168,"p":-9,"w":0.5}
]},"transform":[{"calculate":"indexof([0,24,48,72,96,168],datum.t)","as":"slot"},{"calculate":"datum.slot-datum.w/147","as":"lo"},{"calculate":"datum.slot+datum.w/147","as":"hi"}],"mark":{"type":"area","orient":"horizontal","interpolate":"monotone","stroke":"#1c2a14","strokeWidth":0.8},"encoding":{"x":{"field":"lo","type":"quantitative","title":"Time(h)"},"x2":{"field":"hi"},"y":{"field":"p","type":"quantitative","title":"%5mC","scale":{"domain":[0,100],"range":[228,61.3],"nice":false},"axis":{"values":[0,20,40,60,80,100],"offset":-68.7,"labelFontSize":12,"titleFontSize":12,"tickSize":5,"titleX":-29.7,"domainColor":"#444","tickColor":"#444"}},"color":{"field":"t","type":"nominal","legend":null,"scale":{"domain":[0,24,48,72,96,168],"range":["#3a6424","#5a7a2c","#4f8a2c","#8fb840","#8fb840","#8fb840"]}}}},
{"data":{"values":[{"t":0,"m":74},{"t":24,"m":74.2},{"t":48,"m":63.5},{"t":72,"m":50},{"t":96,"m":45.3},{"t":168,"m":23}]},"transform":[{"calculate":"indexof([0,24,48,72,96,168],datum.t)","as":"slot"}],"mark":{"type":"tick","orient":"horizontal","size":30,"thickness":1.6,"color":"#111"},"encoding":{"y":{"field":"m","type":"quantitative","title":"%5mC"}}},
{"data":{"values":[{"slot":-1.7,"m":132.6,"l":"D"}]},"mark":{"type":"text","fontSize":14,"fontWeight":"bold","align":"left","baseline":"middle","color":"#111"},"encoding":{"y":{"field":"m","type":"quantitative","title":"%5mC"},"text":{"field":"l"}}}
]},
{"width":389,"height":409,"resolve":{"scale":{"x":"independent","y":"independent","color":"independent","strokeDash":"independent"},"axis":{"x":"independent","y":"independent"}},"layer":[
{"resolve":{"scale":{"color":"independent"}},"encoding":{"x":{"field":"x","type":"quantitative","axis":null,"scale":{"domain":[-90,1077],"nice":false,"zero":false}},"y":{"field":"y","type":"quantitative","axis":null,"scale":{"domain":[1050,-177],"nice":false,"zero":false}}},"layer":[
{"data":{"values":[
{"z":"5mC","x":36,"x1":517,"y":96,"y1":544},{"z":"5hmC","x":517,"x1":1002,"y":96,"y1":544}
]},"mark":{"type":"rect"},"encoding":{"x2":{"field":"x1"},"y2":{"field":"y1"},"color":{"field":"z","type":"nominal","legend":null,"scale":{"domain":["5mC","5hmC"],"range":["#fbf7cb","#d3e4ea"]}}}},
{"data":{"values":[{"x":36,"x1":1002,"y":96,"y1":544}]},"mark":{"type":"rect","fillOpacity":0,"stroke":"#555","strokeWidth":1.2},"encoding":{"x2":{"field":"x1"},"y2":{"field":"y1"}}},
{"data":{"values":[
{"z":"De novo methylation","x":36,"x1":1002,"y":720,"y1":790},{"z":"Maintenance methylation","x":36,"x1":1002,"y":790,"y1":858},{"z":"Active demethylation","x":36,"x1":1002,"y":858,"y1":928}
]},"mark":{"type":"rect","stroke":"#333","strokeWidth":1.2},"encoding":{"x2":{"field":"x1"},"y2":{"field":"y1"},"color":{"field":"z","type":"nominal","legend":null,"scale":{"domain":["De novo methylation","Maintenance methylation","Active demethylation"],"range":["#a98dbf","#d7a572","#8eb640"]}}}},
{"data":{"values":[{"e":"a","x":147,"y":512},{"e":"a","x":205,"y":512},{"e":"b","x":712,"y":512},{"e":"b","x":745,"y":512}]},"mark":{"type":"line","order":false,"color":"#111","strokeWidth":1,"strokeDash":[4,3]},"encoding":{"detail":{"field":"e"}}},
{"data":{"values":[{"t":"Serum → 2i","x":497,"y":148}]},"mark":{"type":"text","fontSize":14.5,"baseline":"middle"},"encoding":{"text":{"field":"t"}}},
{"data":{"values":[
{"t":"5mC","x":282,"y":220},{"t":"5hmC","x":787,"y":238},{"t":"Estimated values","x":794,"y":635},{"t":"Serum","x":713,"y":693},{"t":"2i","x":886,"y":693},{"t":"~ 3%","x":710,"y":757},{"t":"~ 0.1%","x":887,"y":757},{"t":"~ 90%","x":700,"y":825},{"t":"~ 60%","x":892,"y":825},{"t":"~ 0.7%","x":695,"y":890},{"t":"~ 0.7%","x":887,"y":890}
]},"mark":{"type":"text","fontSize":12.5,"baseline":"middle","color":"#333"},"encoding":{"text":{"field":"t"}}},
{"data":{"values":[
{"t":"Estimated","x":217,"y":512},{"t":"Predicted","x":766,"y":512},{"t":"Maintenance methylation","x":52,"y":825},{"t":"Active demethylation","x":52,"y":890},{"t":"methylation","x":204,"y":757}
]},"mark":{"type":"text","fontSize":12.5,"align":"left","baseline":"middle","color":"#333"},"encoding":{"text":{"field":"t"}}},
{"data":{"values":[
{"t":"De novo","x":52,"y":757},{"t":"p₁","x":540,"y":762},{"t":"p₂","x":540,"y":830},{"t":"p₃","x":540,"y":895}
]},"mark":{"type":"text","fontSize":12.5,"align":"left","baseline":"middle","fontStyle":"italic","color":"#333"},"encoding":{"text":{"field":"t"}}},
{"data":{"values":[{"t":"F","x":-72,"y":27}]},"mark":{"type":"text","fontSize":14,"fontWeight":"bold","align":"left","baseline":"middle","color":"#111"},"encoding":{"text":{"field":"t"}}}
]},
{"data":{"values":[
{"s":"Fit","t":0,"v":1.0},{"s":"Fit","t":66,"v":1.0},{"s":"Fit","t":142,"v":0.73},{"s":"Fit","t":234,"v":0.58},{"s":"Fit","t":310,"v":0.5},{"s":"Fit","t":432,"v":0.385},
{"s":"Estimated","t":0,"v":1.0},{"s":"Estimated","t":40,"v":0.97},{"s":"Estimated","t":96,"v":0.84},{"s":"Estimated","t":142,"v":0.735},{"s":"Estimated","t":234,"v":0.6},{"s":"Estimated","t":310,"v":0.51},{"s":"Estimated","t":432,"v":0.43}
]},"mark":{"type":"line","strokeWidth":1},"encoding":{"x":{"field":"t","type":"quantitative","title":null,"scale":{"domain":[0,432],"range":[79,173.3],"nice":false},"axis":{"orient":"bottom","zindex":1,"values":[0,432],"offset":-220.7,"labelFontSize":11.5,"tickSize":4,"domainColor":"#555","tickColor":"#555","labelPadding":5}},"y":{"field":"v","type":"quantitative","title":null,"scale":{"domain":[0,1],"range":[188.3,149.3],"nice":false},"axis":{"orient":"left","zindex":1,"values":[0,0.5,1],"format":".1f","offset":-79,"labelFontSize":11.5,"tickSize":4,"domainColor":"#555","tickColor":"#555"}},"color":{"field":"s","type":"nominal","legend":null,"scale":{"domain":["Fit","Estimated"],"range":["#c9743c","#111111"]}},"strokeDash":{"field":"s","type":"nominal","legend":null,"scale":{"domain":["Fit","Estimated"],"range":[[1,0],[4,3]]}}}},
{"data":{"values":[
{"s":"Fit","t":0,"v":0.87},{"s":"Fit","t":12,"v":0.8},{"s":"Fit","t":35,"v":0.92},{"s":"Fit","t":70,"v":1.0},{"s":"Fit","t":111,"v":0.91},{"s":"Fit","t":156,"v":0.78},{"s":"Fit","t":186,"v":0.59},{"s":"Fit","t":217,"v":0.4},{"s":"Fit","t":270,"v":0.29},{"s":"Fit","t":330,"v":0.24},{"s":"Fit","t":432,"v":0.21},
{"s":"Predicted","t":0,"v":0.9},{"s":"Predicted","t":12,"v":0.75},{"s":"Predicted","t":35,"v":0.88},{"s":"Predicted","t":70,"v":1.0},{"s":"Predicted","t":111,"v":0.9},{"s":"Predicted","t":156,"v":0.77},{"s":"Predicted","t":186,"v":0.55},{"s":"Predicted","t":217,"v":0.35},{"s":"Predicted","t":270,"v":0.26},{"s":"Predicted","t":330,"v":0.22},{"s":"Predicted","t":432,"v":0.21}
]},"mark":{"type":"line","strokeWidth":1},"encoding":{"x":{"field":"t","type":"quantitative","title":null,"scale":{"domain":[0,432],"range":[254,349],"nice":false},"axis":{"orient":"bottom","zindex":1,"values":[0,432],"offset":-219.3,"labelFontSize":11.5,"tickSize":4,"domainColor":"#555","tickColor":"#555","labelPadding":5}},"y":{"field":"v","type":"quantitative","title":null,"scale":{"domain":[0,1],"range":[189.7,153.3],"nice":false},"axis":{"orient":"left","zindex":1,"values":[0,0.5,1],"format":".1f","offset":-254,"labelFontSize":11.5,"tickSize":4,"domainColor":"#555","tickColor":"#555"}},"color":{"field":"s","type":"nominal","legend":null,"scale":{"domain":["Fit","Predicted"],"range":["#c9743c","#111111"]}},"strokeDash":{"field":"s","type":"nominal","legend":null,"scale":{"domain":["Fit","Predicted"],"range":[[1,0],[4,3]]}}}}
]}
],"spacing":0,"bounds":"flush"}
]}
